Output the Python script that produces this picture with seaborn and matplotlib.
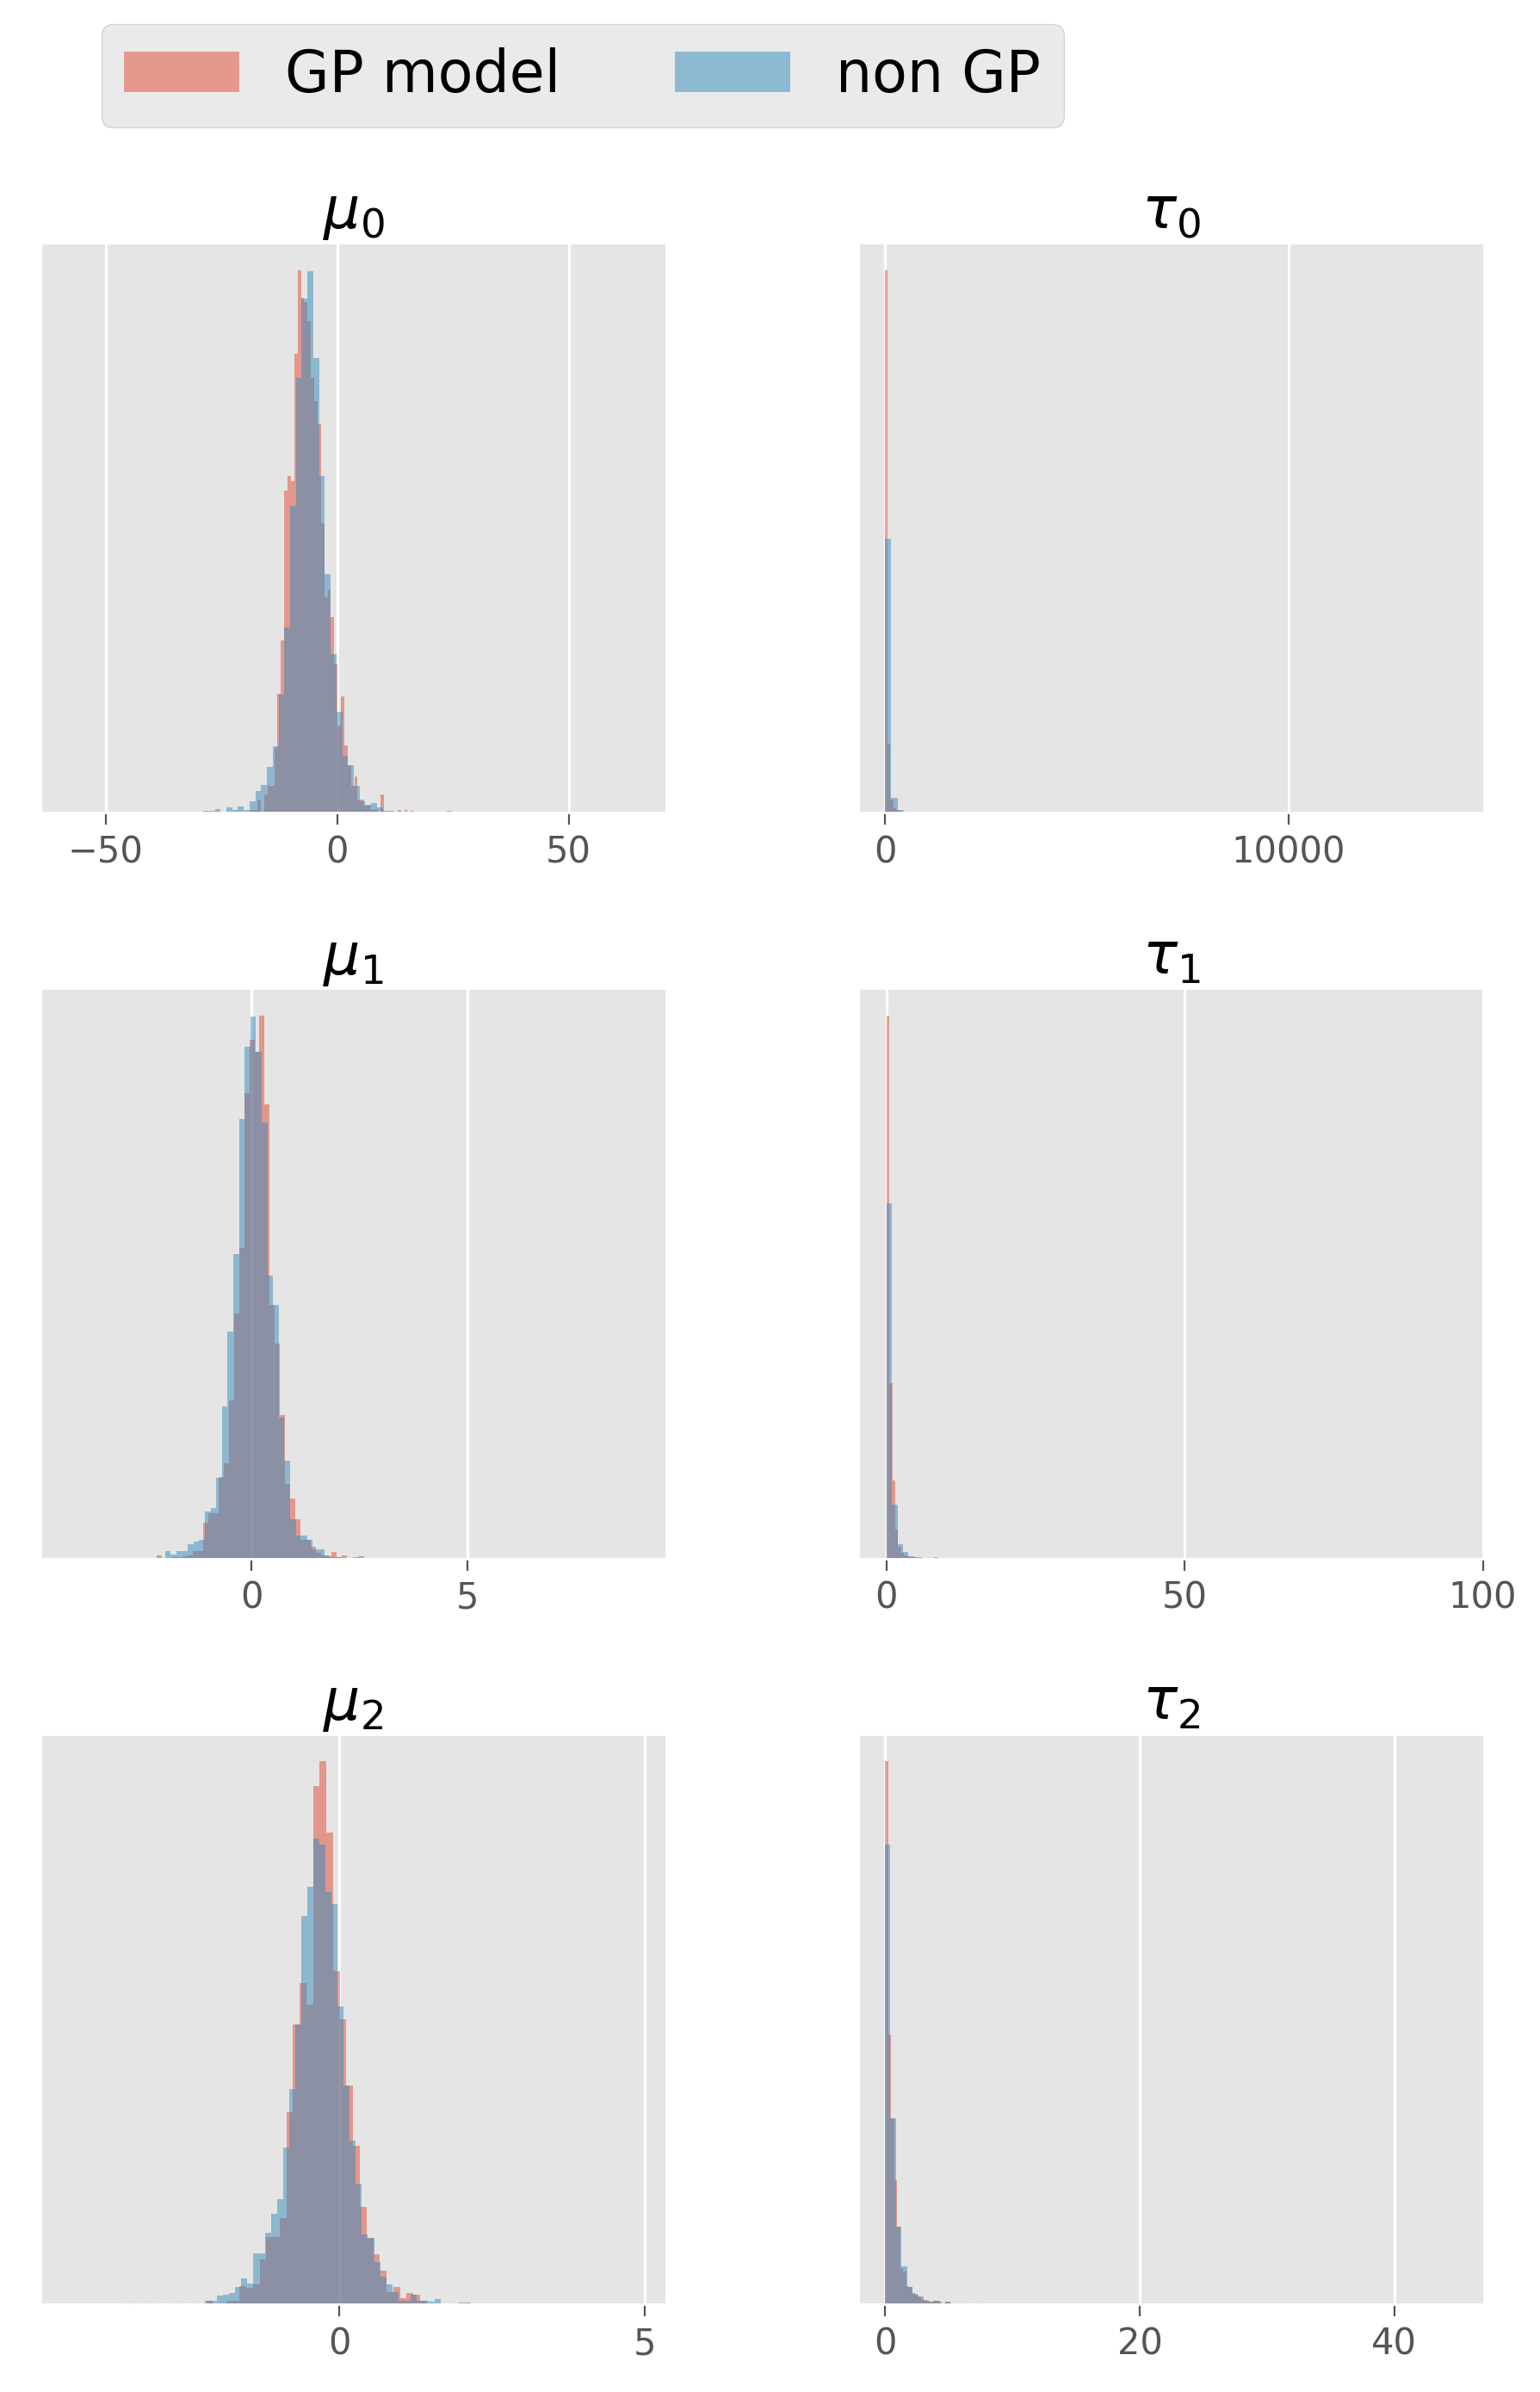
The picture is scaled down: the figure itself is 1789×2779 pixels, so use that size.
import numpy as np
import pandas as pd
import matplotlib
matplotlib.use('Agg')
import matplotlib.pyplot as plt
import seaborn as sns

#series names and colours
series_names=['GP model','non GP']
series_colors=['#E24A33','#348ABD']

#panel titles and tick labels
titles=[['$\\mu_0$','$\\tau_0$'],['$\\mu_1$','$\\tau_1$'],['$\\mu_2$','$\\tau_2$']]
mu0_ticks=[-50,0,50]
tau0_ticks=[0,10000]
mu1_ticks=[0,5]
tau1_ticks=[0,50,100]
mu2_ticks=[0,5]
tau2_ticks=[0,20,40]

#histogram bars: first bin edge, bin width, bar heights
mu0_gp_start,mu0_gp_width=-18.62,0.72
mu0_gp=[0.5,0.5,2.4,0,3.4,5,5,12,22,31.8,59.4,62.1,61.1,84.6,100,94.9,94,90.6,80.2,75.8,71.5,53.4,39.7,41.2,36.1,27.5,16,21.5,12.5,8.8,5,6.7,2.4,2.4,1.4,1.4,0.5,0.7,0,3.4,0,0,0,0,0.5,0,0.5,0,0.4]
mu0_non_start,mu0_non_width=-28.9,1.25
mu0_non=[0.3,0.3,0.75,0,1.0,0.6,1.2,0.6,2.2,4,5.2,8.4,12.3,21.8,34.2,56.5,80.2,94.7,99.7,83.8,62.1,44,29.3,18.6,10.6,8.8,5,2.2,1.5,1.8,1.0,0.3,0.3,0,0.2,0,0,0,0,0,0,0,0.3]

tau0_gp_start,tau0_gp_width=0,67
tau0_gp=[100,12.7,2.4,0.9,0.5,0.3,0.2,0.1,0.1,0,0.1]
tau0_non_start,tau0_non_width=0,157
tau0_non=[50.4,2.8,0.6,0.2,0.1]

mu1_gp_start,mu1_gp_width=-2.196,0.119
mu1_gp=[0.6,0,0,0.2,0.3,0.4,0.6,1.3,1.3,6.6,8.3,8.3,15,17.5,29.1,45.1,57.2,85.7,95.5,93.4,100,83.6,46.7,39.6,26.5,13.8,11,7.2,3.4,3.4,2.2,1,0.6,0.4,1.2,0.2,0.6,0,0,0,0,0.1,0,0,0,0,0,0,0,0.1]
mu1_non_start,mu1_non_width=-2.133,0.1315
mu1_non=[0,1.3,0.7,1.3,1.3,2.6,3.2,3.4,8.7,9.3,14.9,28,41.8,56,81,94.3,99.9,93.4,80.3,52.1,46.7,26,18.1,7.2,4.3,4.3,3.4,1.7,1.7,0.6,0.2,0.2,0,0,0.3,0.4]

tau1_gp_start,tau1_gp_width=0,0.5
tau1_gp=[100,32.3,14.3,5.4,2.1,1.0,0.6,0.4,0.3,0.2,0.1,0.2,0,0,0,0,0.2]
tau1_non_start,tau1_non_width=0,0.93
tau1_non=[65.5,9.9,2.7,1.2,0.45,0.2,0.1]

mu2_gp_start,mu2_gp_width=-3.494,0.1094
mu2_gp=[0.1,0,0,0.1,0,0,0,0,0,0,0,0,0.7,0,0.1,0.7,0.7,3.4,3.0,3.6,8.2,12.3,12.3,15.9,35.3,51.6,59.2,55.1,95.4,100,86.8,61.3,52.5,40.3,29.1,17.9,12.2,9.2,6.2,2.2,3.2,1.1,2.1,1.7,0.7]
mu2_non_start,mu2_non_width=-3.40,0.0992
mu2_non=[0.1,0,0,0,0,0,0,0.1,0,0,0.1,0.1,0.6,0.6,1.6,1.7,2.1,3.2,4.7,3.8,9.4,9.4,13.1,16.6,19.4,28.8,39.6,51.6,71.5,76.9,85.7,84.6,76,73.7,54.9,40.3,30.1,22.2,12.9,12.2,7.7,5.1,3.7,2.2,0.7,0.7,1.7,0.7,0.7,0.4,1.0,0,0,0.1,0.3,0.3]

tau2_gp_start,tau2_gp_width=0,0.236
tau2_gp=[100,49.7,34.3,22.8,14.2,6.6,6.0,3.4,3.2,2.1,1.7,1.5,1.0,0.8,0.6,0.4,0.6,0.6,0.4,0.2,0.4,0.3,0,0,0,0,0,0,0,0,0,0,0.2]
tau2_non_start,tau2_non_width=0,0.43
tau2_non=[84.6,34.3,14.2,6.9,3.2,1.9,1.5,0.7,0.4,0.6,0.2,0.4,0.15,0.1,0.15]

#axis limits
xlims=[[(-64.05,71.1),(-664,14858)],[(-4.88,9.59),(-4.7,100.2)],[(-4.90,5.36),(-2.1,47.05)]]

panels=[
    [((mu0_gp_start,mu0_gp_width,mu0_gp),(mu0_non_start,mu0_non_width,mu0_non),mu0_ticks),
     ((tau0_gp_start,tau0_gp_width,tau0_gp),(tau0_non_start,tau0_non_width,tau0_non),tau0_ticks)],
    [((mu1_gp_start,mu1_gp_width,mu1_gp),(mu1_non_start,mu1_non_width,mu1_non),mu1_ticks),
     ((tau1_gp_start,tau1_gp_width,tau1_gp),(tau1_non_start,tau1_non_width,tau1_non),tau1_ticks)],
    [((mu2_gp_start,mu2_gp_width,mu2_gp),(mu2_non_start,mu2_non_width,mu2_non),mu2_ticks),
     ((tau2_gp_start,tau2_gp_width,tau2_gp),(tau2_non_start,tau2_non_width,tau2_non),tau2_ticks)],
]

def draw_hist(ax,start,width,counts,color,label):
    counts=np.asarray(counts,dtype=float)
    edges=start+width*np.arange(len(counts)+1)
    df=pd.DataFrame({'x':(edges[:-1]+edges[1:])/2,'w':counts})
    sns.histplot(data=df,x='x',weights='w',bins=list(edges),color=color,alpha=0.5,
                 linewidth=0,ax=ax,label=label)

plt.style.use('ggplot')
plt.rcParams['grid.linewidth']=1.1
fig,axes=plt.subplots(3,2,figsize=(8.945,13.895),dpi=200)
fig.subplots_adjust(left=0.0263,right=0.9637,top=0.8985,bottom=0.0367,wspace=0.3067,hspace=0.308)

for r in range(3):
    for c in range(2):
        ax=axes[r,c]
        gp,non,ticks=panels[r][c]
        draw_hist(ax,*gp,series_colors[0],series_names[0])
        draw_hist(ax,*non,series_colors[1],series_names[1])
        ax.set_xlim(*xlims[r][c])
        ax.set_xticks(ticks)
        ax.set_yticks([])
        ax.set_xlabel('')
        ax.set_ylabel('')
        ax.tick_params(axis='x',labelsize=15,colors='#555555',length=5,pad=4)
        ax.set_title(titles[r][c],fontsize=24,color='black')

handles,labels=axes[0,0].get_legend_handles_labels()
fig.legend(handles,labels,loc='upper left',bbox_to_anchor=(0.0657,0.9898),ncol=2,
           fontsize=24,columnspacing=2.0,borderaxespad=0,frameon=True)

fig.savefig('out.png',dpi=200)
